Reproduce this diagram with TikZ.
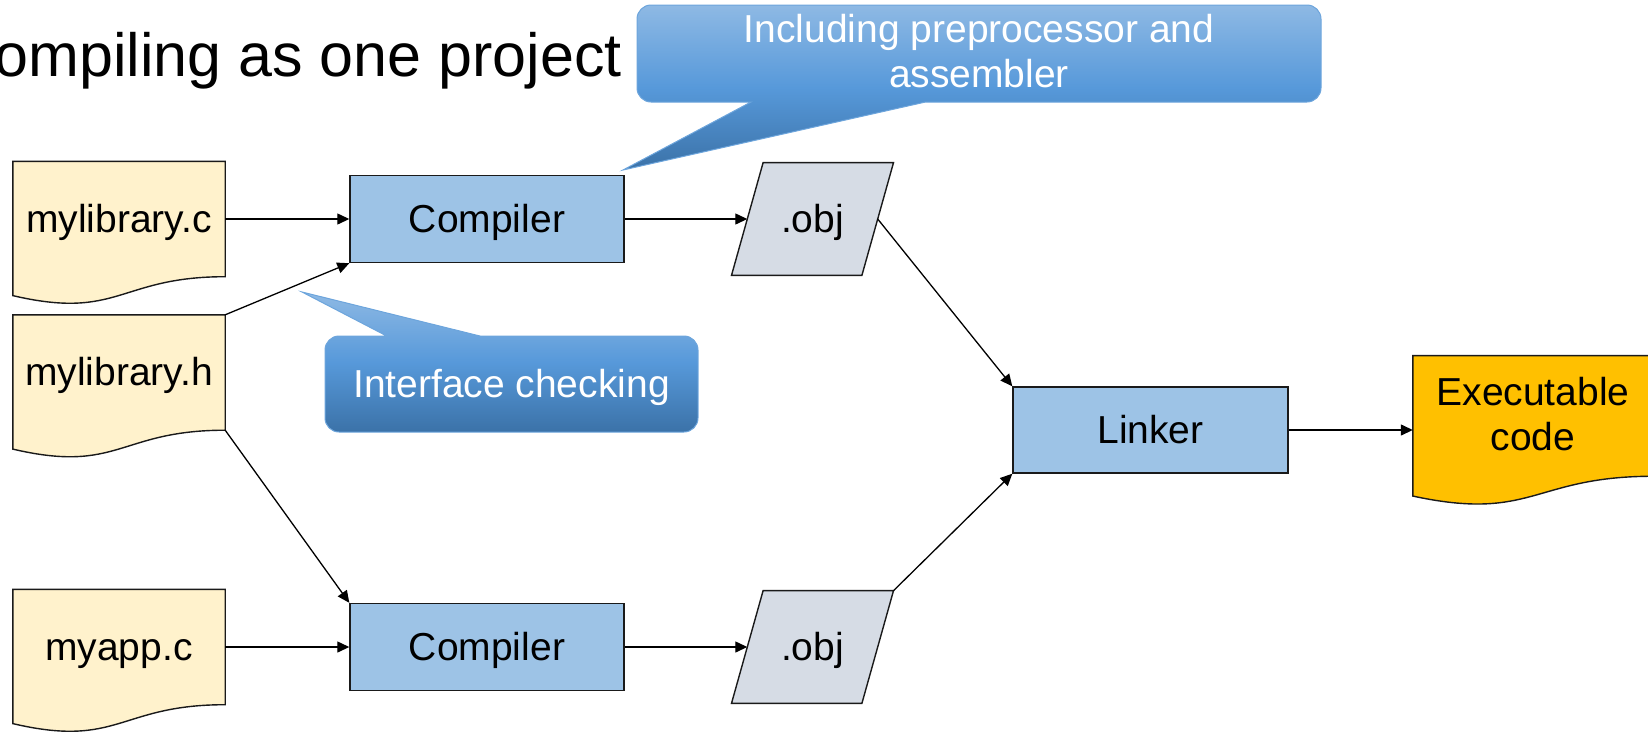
\documentclass[tikz,border=0pt]{standalone}
\usepackage{fontspec}
\setmainfont{Liberation Sans}
\usetikzlibrary{arrows.meta,calc,backgrounds}
\definecolor{docfill}{HTML}{FFF2CC}
\definecolor{procfill}{HTML}{9DC3E6}
\definecolor{objfill}{HTML}{D6DCE5}
\definecolor{exefill}{HTML}{FFC000}
\definecolor{calltop}{HTML}{8EB9E4}
\definecolor{callmid}{HTML}{5799DA}
\definecolor{callbot}{HTML}{3B72A8}
\definecolor{calledge}{HTML}{6DA5DC}
\definecolor{edgecol}{HTML}{1A1A1A}
% #1 node, #2 fill, #3 depth of wave control, #4 drop of left end
\newcommand\docoutline[4]{%
  \path[docline, fill=#2] (#1.north west) -- (#1.north east) -- (#1.south east)
    .. controls (#1.south) and ($(#1.south)+(0,#3)$) .. ($(#1.south west)+(0,#4)$) -- cycle;}
% parallelogram round a node, #1 node, #2 half slant
\newcommand\paraoutline[2]{%
  \path[docline, fill=objfill] ($(#1.north west)+(#2,0)$) -- ($(#1.north east)+(#2,0)$)
    -- ($(#1.south east)-(#2,0)$) -- ($(#1.south west)-(#2,0)$) -- cycle;}
\begin{document}
\begin{tikzpicture}[x=1pt,y=-1pt,
  txt/.style={font=\fontsize{39}{45}\selectfont, text=black},
  oneline/.style={text height=35.1pt, text depth=8.2pt},
  docnode/.style={txt, minimum width=212pt, minimum height=115pt, inner sep=0pt, align=center},
  docline/.style={draw=edgecol, line width=1.4pt},
  procbox/.style={txt, oneline, draw=edgecol, line width=1.4pt, fill=procfill, minimum width=274pt, minimum height=87pt, inner sep=0pt},
  objbox/.style={txt, oneline, minimum width=130pt, minimum height=112.3pt, inner sep=0pt},
  conn/.style={draw=black, line width=1.3pt, -{Triangle[length=12pt,width=11pt]}},
  callshape/.style={draw=calledge, line width=1pt, top color=calltop, bottom color=callbot, middle color=callmid},
  calltext/.style={font=\fontsize{39}{45}\selectfont, text=white, align=center}
]
\useasboundingbox (0,0) rectangle (1648,734);

% title (first letter falls outside the page, as in the original)
\node[anchor=base east, font=\fontsize{61}{70}\selectfont, inner sep=0pt] (title) at (622,76) {Compiling as one project};

% documents
\node[docnode, oneline] (libc) at (119,219) {mylibrary.c};
\node[docnode, oneline] (libh) at (119,372.5) {mylibrary.h};
\node[docnode, oneline] (appc) at (119,647) {myapp.c};
\node[docnode, minimum width=240pt, minimum height=120.3pt] (exec) at (1533,414) {Executable\\code};

% processes
\node[procbox] (comp1) at (487,219) {Compiler};
\node[procbox] (comp2) at (487,647) {Compiler};
\node[procbox, minimum width=275pt, minimum height=86pt] (linker) at (1150.5,430) {Linker};

% object files
\node[objbox] (obj1) at (812.5,219) {.obj};
\node[objbox] (obj2) at (812.5,647) {.obj};

\begin{scope}[on background layer]
  \docoutline{libc}{docfill}{43.8}{18.9}
  \docoutline{libh}{docfill}{43.8}{18.9}
  \docoutline{appc}{docfill}{43.8}{18.9}
  \path[docline, fill=exefill] ($(exec.north west)+(0,1.9)$) -- ($(exec.north east)+(0,1.9)$) -- ($(exec.south east)+(0,1.9)$)
    .. controls ($(exec.south)+(0,1.9)$) and ($(exec.south)+(0,47.65)$) .. ($(exec.south west)+(0,21.7)$) -- cycle;
  \paraoutline{obj1}{15.8}
  \paraoutline{obj2}{15.8}
\end{scope}

% connectors
\draw[conn] (libc.east) -- (comp1.west);
\draw[conn] (libh.north east) -- (comp1.south west);
\draw[conn] (libh.south east) -- (comp2.north west);
\draw[conn] (appc.east) -- (comp2.west);
\draw[conn] (comp1.east) -- (obj1.west);
\draw[conn] (comp2.east) -- (obj2.west);
\draw[conn] (obj1.east) -- (linker.north west);
\draw[conn] ($(obj2.north east)+(15.8,0)$) -- (linker.south west);
\draw[conn] (linker.east) -- (linker.east -| exec.west);

% callout 1
\path[callshape] (651,5) -- (1307,5) .. controls (1314.7,5) and (1321,11.3) .. (1321,19)
  -- (1321,88) .. controls (1321,95.7) and (1314.7,102) .. (1307,102)
  -- (925.6,102) -- (623,170) -- (751,102)
  -- (651,102) .. controls (643.3,102) and (637,95.7) .. (637,88)
  -- (637,19) .. controls (637,11.3) and (643.3,5) .. (651,5) -- cycle;
\node[calltext] (call1) at (979,51) {Including preprocessor and\\assembler};

% callout 2
\path[callshape] (339,336) -- (386.7,336) -- (302,292) -- (480,336)
  -- (684,336) .. controls (691.7,336) and (698,342.3) .. (698,350)
  -- (698,418) .. controls (698,425.7) and (691.7,432) .. (684,432)
  -- (339,432) .. controls (331.3,432) and (325,425.7) .. (325,418)
  -- (325,350) .. controls (325,342.3) and (331.3,336) .. (339,336) -- cycle;
\node[calltext, oneline] (call2) at (511.5,384) {Interface checking};
\end{tikzpicture}
\end{document}
